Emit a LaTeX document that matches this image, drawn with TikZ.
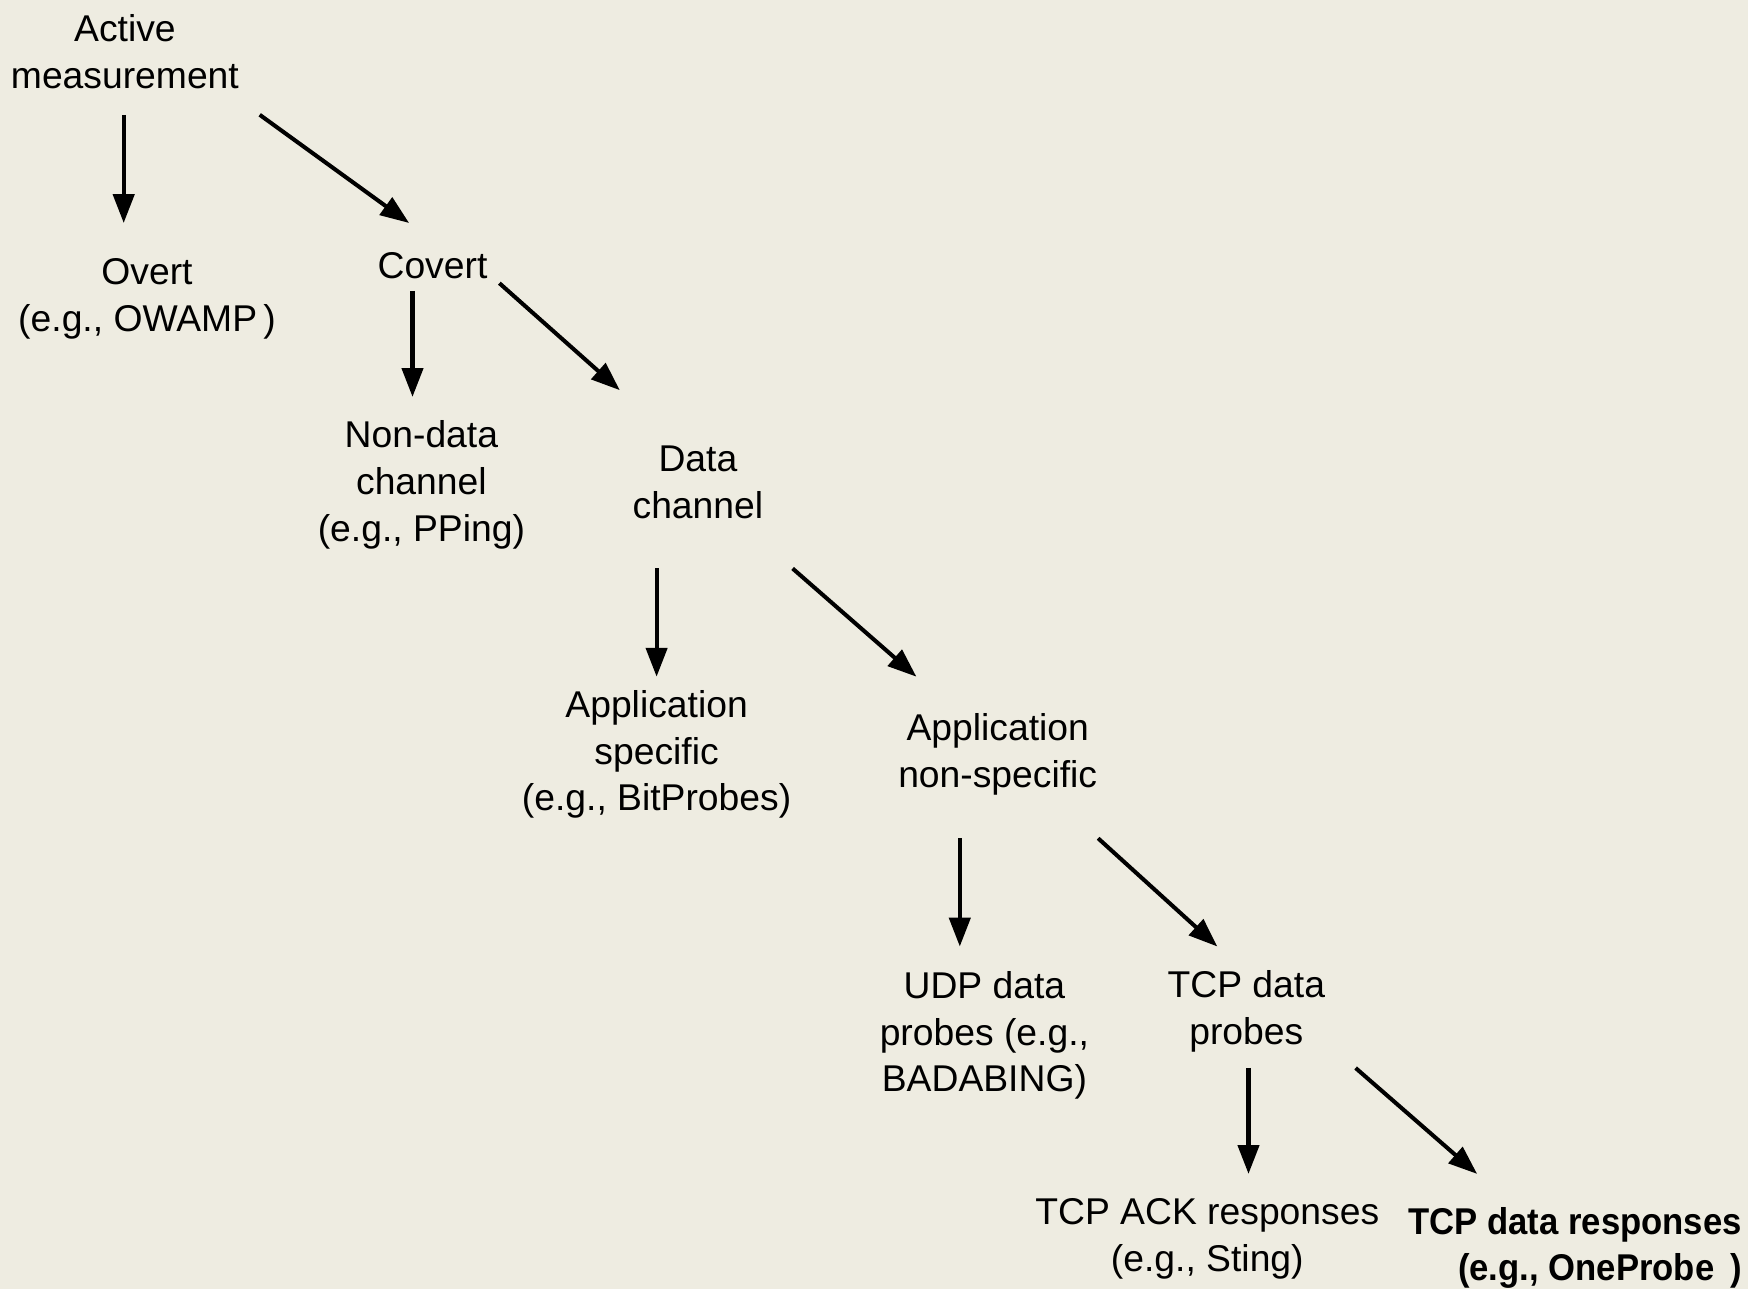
\documentclass[tikz,border=0pt]{standalone}
\usepackage{fontspec}
\setmainfont{Liberation Sans}
\newfontfamily\narrowbold{Liberation Sans}[FakeStretch=0.93]
\usetikzlibrary{arrows.meta}
\definecolor{paper}{RGB}{238,236,225}
\begin{document}
\begin{tikzpicture}[x=0.01cm,y=-0.01cm,
  label/.style={align=center,inner sep=0pt,font=\fontsize{10.6}{13.3}\selectfont},
  link/.style={line width=1.15pt,-{Triangle[length=8.2pt,width=6pt]}}]
  % canvas
  \fill[paper] (0,0) rectangle (1748,1289);
  \useasboundingbox (0,0) rectangle (1748,1289);

  % taxonomy labels
  \node[label] (act)      at (124.9,51.5)   {Active\\measurement};
  \node[label] (overt)    at (147,299)      {Overt\\(e.g., OWAMP\,)};
  \node[label] (covert)   at (432.5,266)    {Covert};
  \node[label] (nondata)  at (421.4,485)    {Non-data\\channel\\(e.g., PPing)};
  \node[label] (data)     at (697.9,482)    {Data\\channel};
  \node[label] (appspec)  at (656.6,754.5)  {Application\\specific\\(e.g., BitProbes)};
  \node[label] (appnon)   at (997.7,754)    {Application\\non-specific};
  \node[label] (udp)      at (984.4,1035.5) {UDP data\\probes (e.g.,\\BADABING)};
  \node[label] (tcpprobe) at (1246.3,1011)  {TCP data\\probes};
  \node[label] (tcpack)   at (1207.3,1239)  {TCP ACK responses\\(e.g., Sting)};
  \node[label,align=right,anchor=east,font=\narrowbold\bfseries\fontsize{10.6}{13.3}\selectfont]
       (tcpresp) at (1742.4,1248) {TCP data responses\\(e.g.,\ OneProbe\ \,)};

  % arrow end points
  \coordinate (a1s) at (123.7,114.8);  \coordinate (a1e) at (123.7,223.0);
  \coordinate (a2s) at (259.7,114.8);  \coordinate (a2e) at (409.1,223.0);
  \coordinate (a3s) at (412.5,291.0);  \coordinate (a3e) at (412.5,396.9);
  \coordinate (a4s) at (499.4,283.2);  \coordinate (a4e) at (619.8,390.2);
  \coordinate (a5s) at (656.6,568.5);  \coordinate (a5e) at (656.6,676.7);
  \coordinate (a6s) at (792.6,568.5);  \coordinate (a6e) at (916.4,676.7);
  \coordinate (a7s) at (959.8,838.3);  \coordinate (a7e) at (959.8,946.5);
  \coordinate (a8s) at (1098.1,838.3); \coordinate (a8e) at (1217.3,946.5);
  \coordinate (a9s) at (1248.5,1068.0);\coordinate (a9e) at (1248.5,1173.9);
  \coordinate (a10s) at (1355.6,1068.0);\coordinate (a10e) at (1477.1,1173.9);

  % connectors
  \draw[link] (a1s) -- (a1e);
  \draw[link] (a2s) -- (a2e);
  \draw[link] (a3s) -- (a3e);
  \draw[link] (a4s) -- (a4e);
  \draw[link] (a5s) -- (a5e);
  \draw[link] (a6s) -- (a6e);
  \draw[link] (a7s) -- (a7e);
  \draw[link] (a8s) -- (a8e);
  \draw[link] (a9s) -- (a9e);
  \draw[link] (a10s) -- (a10e);
\end{tikzpicture}
\end{document}
